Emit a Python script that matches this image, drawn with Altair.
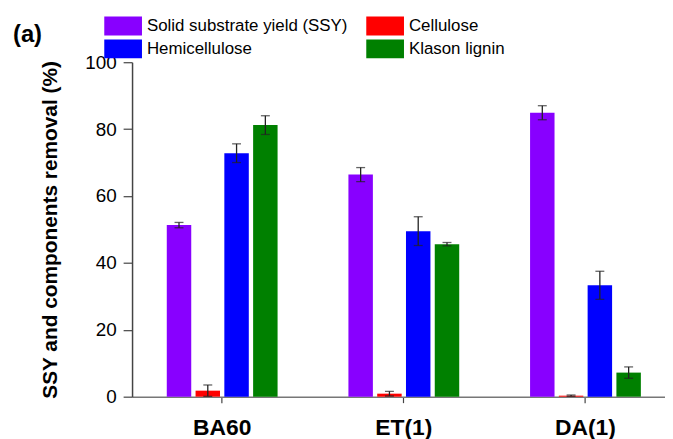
import altair as alt
import pandas as pd

categories = ["BA60", "ET(1)", "DA(1)"]
components = ["Solid substrate yield (SSY)", "Cellulose", "Hemicellulose", "Klason lignin"]
colors = ["#8800FF", "#FF0000", "#0000FF", "#008000"]
legend_order = ["Solid substrate yield (SSY)", "Hemicellulose", "Cellulose", "Klason lignin"]
legend_colors = ["#8800FF", "#0000FF", "#FF0000", "#008000"]

ssy = [51.3, 66.4, 84.9]
ssy_err = [0.8, 2.1, 2.1]
cellulose = [1.8, 0.9, 0.3]
cellulose_err = [1.7, 0.7, 0.2]
hemicellulose = [72.8, 49.5, 33.3]
hemicellulose_err = [2.8, 4.3, 4.2]
klason = [81.2, 45.6, 7.2]
klason_err = [2.8, 0.5, 1.7]

series = [(ssy, ssy_err), (cellulose, cellulose_err), (hemicellulose, hemicellulose_err), (klason, klason_err)]
rows = []
for comp, (vals, errs) in zip(components, series):
    for cat, v, e in zip(categories, vals, errs):
        rows.append({"cat": cat, "comp": comp, "value": v, "lo": v - e, "hi": v + e})
df = pd.DataFrame(rows)

FONT = "Liberation Sans"

x = alt.X("cat:N", sort=categories, title=None,
          scale=alt.Scale(paddingInner=0.39, paddingOuter=0.162, align=0.59),
          axis=alt.Axis(labelAngle=0, labelFont=FONT, labelFontSize=23, labelFontWeight="bold",
                        labelColor="#000000", tickSize=6, tickColor="#444444", labelPadding=14,
                        domainColor="#777777", domainWidth=1.5, tickWidth=1.2))
xo = alt.XOffset("comp:N", sort=components, scale=alt.Scale(paddingInner=0.15, paddingOuter=0))

yaxis = alt.Axis(values=list(range(0, 101, 10)),
                 labelExpr="datum.value % 20 === 0 ? datum.label : ''",
                 tickSize={"condition": {"test": "datum.value % 20 === 0", "value": 9}, "value": 5},
                 grid=False, labelFont=FONT, labelFontSize=19, labelColor="#000000",
                 labelPadding=7, tickColor="#444444", tickWidth=1.2,
                 domainColor="#444444", domainWidth=1.5,
                 title="SSY and components removal (%)", titleFont=FONT, titleFontSize=21,
                 titleFontWeight="bold", titleColor="#000000", titlePadding=24)
yscale = alt.Scale(domain=[0, 100], nice=False)

base = alt.Chart(df)

bars = base.mark_bar(opacity=1).encode(
    x=x, xOffset=xo,
    y=alt.Y("value:Q", scale=yscale, axis=yaxis),
    color=alt.Color("comp:N", sort=legend_order,
                    scale=alt.Scale(domain=legend_order, range=legend_colors),
                    legend=alt.Legend(orient="none", legendX=-28, legendY=-46, columns=2,
                                      title=None, symbolType="M-1,-1H3V1H-1Z", symbolSize=361,
                                      symbolStrokeWidth=0, symbolOpacity=1, labelOffset=24,
                                      labelFont=FONT, labelFontSize=17, labelColor="#000000",
                                      labelLimit=400,
                                      columnPadding=18, rowPadding=4, padding=0)),
)

rules = base.mark_rule(color="#222222", strokeWidth=1.3).encode(
    x=x, xOffset=xo, y="lo:Q", y2="hi:Q")
cap_lo = base.mark_tick(color="#222222", thickness=1.3, size=9).encode(
    x=x, xOffset=xo, y="lo:Q")
cap_hi = base.mark_tick(color="#222222", thickness=1.3, size=9).encode(
    x=x, xOffset=xo, y="hi:Q")

label = alt.Chart(pd.DataFrame({"t": ["(a)"]})).mark_text(
    font=FONT, fontSize=24, fontWeight="bold", align="left", baseline="alphabetic", color="#000000"
).encode(text="t:N", x=alt.value(-120), y=alt.value(-20))

chart = alt.layer(bars, rules, cap_lo, cap_hi, label).properties(
    width=537, height=337,
    padding={"left": 125, "top": 53, "right": 0, "bottom": 41},
    autosize=alt.AutoSizeParams(type="none"),
).configure_view(stroke=None)

chart.save("out.html", embed_options={"renderer": "svg", "actions": False})
